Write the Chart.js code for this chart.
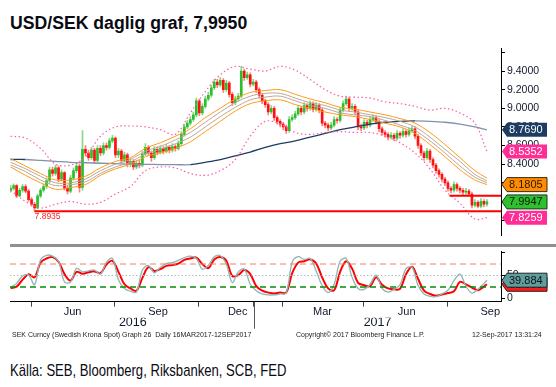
<!DOCTYPE html>
<html>
<head>
<meta charset="utf-8">
<script src="https://cdn.jsdelivr.net/npm/chart.js@4.4.1/dist/chart.umd.min.js"></script>
<style>
  body { margin: 0; background: #fff; }
  #page { position: relative; width: 556px; height: 387px; overflow: hidden; background: #fff; }
  #title { position: absolute; left: 10px; top: 14px; font: bold 18px/18px "Liberation Sans", sans-serif; color: #0a0a14; white-space: nowrap; transform: scaleX(0.98); transform-origin: 0 0; }
  #priceBox { position: absolute; left: 0; top: 40px; width: 556px; height: 204px; }
  #stochBox { position: absolute; left: 0; top: 243px; width: 556px; height: 87px; }
  canvas { display: block; }
  .foot { position: absolute; top: 331px; font: 7px/8px "Liberation Sans", sans-serif; color: #222; white-space: nowrap; }
  #source { position: absolute; left: 10px; top: 362px; font: 17px/17px "Liberation Sans", sans-serif; color: #0a0a14; white-space: nowrap; transform: scaleX(0.77); transform-origin: 0 0; }
</style>
</head>
<body>
<div id="page">
  <div id="title">USD/SEK daglig graf, 7,9950</div>
  <div id="priceBox"><canvas id="price" width="556" height="204"></canvas></div>
  <div id="stochBox"><canvas id="stoch" width="556" height="87"></canvas></div>
  <div class="foot" style="left:12px">SEK Curncy (Swedish Krona Spot) Graph 26&nbsp; Daily 16MAR2017-12SEP2017</div>
  <div class="foot" style="left:296px">Copyright© 2017 Bloomberg Finance L.P.</div>
  <div class="foot" style="left:472px">12-Sep-2017 13:31:24</div>
  <div id="source">Källa: SEB, Bloomberg, Riksbanken, SCB, FED</div>
</div>
<script>
// x axis = candle number, one candle ~ 2-3 trading days (Apr 2016 - 12 Sep 2017)
const xMin = -0.2, xMax = 163.7;

const opens = [
  8.12, 8.14, 8.17, 8.06, 8.12, 8.16, 8.11, 8.02, 7.97, 7.93,
  8.06, 8.12, 8.16, 8.22, 8.34, 8.30, 8.36, 8.24, 8.31, 8.14,
  8.11, 8.25, 8.33, 8.38, 8.15, 8.56, 8.52, 8.47, 8.55, 8.44,
  8.57, 8.52, 8.60, 8.58, 8.65, 8.68, 8.50, 8.54, 8.44, 8.50,
  8.40, 8.43, 8.37, 8.41, 8.39, 8.51, 8.58, 8.52, 8.47, 8.56,
  8.53, 8.57, 8.54, 8.58, 8.55, 8.59, 8.57, 8.62, 8.72, 8.80,
  8.84, 8.88, 8.93, 9.08, 8.95, 9.02, 9.10, 9.14, 9.22, 9.28,
  9.25, 9.30, 9.20, 9.27, 9.15, 9.06, 9.10, 9.13, 9.40, 9.33,
  9.36, 9.26, 9.28, 9.20, 9.14, 9.08, 9.04, 8.96, 9.00, 8.90,
  8.86, 8.83, 8.80, 8.76, 8.88, 8.90, 8.94, 9.00, 8.96, 9.03,
  9.00, 9.05, 8.99, 9.03, 8.98, 8.84, 8.82, 8.79, 8.82, 8.88,
  8.87, 8.98, 9.05, 9.10, 9.00, 9.02, 8.96, 8.80, 8.79, 8.85,
  8.82, 8.88, 8.90, 8.86, 8.78, 8.74, 8.72, 8.69, 8.71, 8.68,
  8.73, 8.71, 8.75, 8.72, 8.76, 8.78, 8.70, 8.60, 8.52, 8.47,
  8.54, 8.45, 8.39, 8.33, 8.29, 8.24, 8.20, 8.14, 8.12, 8.18,
  8.14, 8.12, 8.10, 8.11, 8.08, 7.96, 7.99, 7.95, 8.00, 7.97
];
const highs = [
  8.17, 8.19, 8.18, 8.14, 8.18, 8.18, 8.13, 8.04, 7.99, 8.08,
  8.14, 8.19, 8.25, 8.37, 8.37, 8.39, 8.38, 8.34, 8.32, 8.17,
  8.28, 8.36, 8.42, 8.40, 8.76, 8.60, 8.55, 8.58, 8.57, 8.60,
  8.60, 8.63, 8.63, 8.68, 8.71, 8.69, 8.57, 8.56, 8.53, 8.52,
  8.46, 8.45, 8.44, 8.44, 8.54, 8.62, 8.60, 8.54, 8.59, 8.59,
  8.60, 8.59, 8.61, 8.60, 8.62, 8.61, 8.65, 8.75, 8.83, 8.87,
  8.91, 8.96, 9.11, 9.10, 9.05, 9.13, 9.17, 9.25, 9.31, 9.31,
  9.33, 9.32, 9.30, 9.29, 9.17, 9.13, 9.16, 9.45, 9.42, 9.39,
  9.38, 9.31, 9.30, 9.22, 9.16, 9.10, 9.06, 9.03, 9.02, 8.92,
  8.88, 8.85, 8.82, 8.91, 8.93, 8.97, 9.03, 9.02, 9.06, 9.05,
  9.08, 9.07, 9.06, 9.05, 9.00, 8.86, 8.84, 8.85, 8.91, 8.90,
  9.01, 9.08, 9.13, 9.12, 9.05, 9.04, 8.98, 8.83, 8.88, 8.87,
  8.91, 8.93, 8.92, 8.88, 8.80, 8.76, 8.74, 8.74, 8.73, 8.76,
  8.75, 8.78, 8.77, 8.79, 8.81, 8.80, 8.72, 8.62, 8.54, 8.57,
  8.56, 8.47, 8.41, 8.35, 8.31, 8.26, 8.22, 8.16, 8.21, 8.20,
  8.16, 8.14, 8.14, 8.13, 8.10, 8.02, 8.01, 8.03, 8.02, 8.02
];
const lows = [
  8.10, 8.12, 8.04, 8.05, 8.10, 8.09, 8.00, 7.95, 7.8935, 7.92,
  8.04, 8.10, 8.14, 8.20, 8.27, 8.28, 8.21, 8.22, 8.12, 8.08,
  8.09, 8.23, 8.31, 8.10, 8.12, 8.49, 8.44, 8.45, 8.41, 8.42,
  8.49, 8.50, 8.55, 8.56, 8.63, 8.47, 8.47, 8.41, 8.42, 8.37,
  8.37, 8.34, 8.35, 8.36, 8.37, 8.49, 8.49, 8.43, 8.45, 8.50,
  8.51, 8.51, 8.52, 8.52, 8.53, 8.54, 8.55, 8.60, 8.70, 8.78,
  8.82, 8.86, 8.91, 8.92, 8.93, 9.00, 9.08, 9.12, 9.20, 9.22,
  9.23, 9.17, 9.18, 9.12, 9.03, 9.04, 9.08, 9.11, 9.30, 9.31,
  9.23, 9.24, 9.17, 9.11, 9.05, 9.01, 8.93, 8.94, 8.87, 8.83,
  8.80, 8.77, 8.73, 8.74, 8.86, 8.88, 8.92, 8.93, 8.94, 8.97,
  8.98, 8.96, 8.97, 8.95, 8.81, 8.79, 8.76, 8.77, 8.80, 8.84,
  8.85, 8.96, 9.03, 8.97, 8.98, 8.93, 8.77, 8.76, 8.77, 8.79,
  8.80, 8.86, 8.83, 8.75, 8.71, 8.69, 8.66, 8.67, 8.65, 8.66,
  8.68, 8.69, 8.69, 8.70, 8.74, 8.67, 8.57, 8.49, 8.44, 8.45,
  8.42, 8.36, 8.30, 8.26, 8.21, 8.17, 8.11, 8.09, 8.10, 8.11,
  8.09, 8.07, 8.07, 8.06, 7.93, 7.94, 7.93, 7.93, 7.94, 7.95
];
const closes = [
  8.14, 8.17, 8.06, 8.12, 8.16, 8.11, 8.02, 7.97, 7.93, 8.06,
  8.12, 8.16, 8.22, 8.34, 8.30, 8.36, 8.24, 8.31, 8.14, 8.11,
  8.25, 8.33, 8.38, 8.15, 8.56, 8.52, 8.47, 8.55, 8.44, 8.57,
  8.52, 8.60, 8.58, 8.65, 8.68, 8.50, 8.54, 8.44, 8.50, 8.40,
  8.43, 8.37, 8.41, 8.39, 8.51, 8.58, 8.52, 8.47, 8.56, 8.53,
  8.57, 8.54, 8.58, 8.55, 8.59, 8.57, 8.62, 8.72, 8.80, 8.84,
  8.88, 8.93, 9.08, 8.95, 9.02, 9.10, 9.14, 9.22, 9.28, 9.25,
  9.30, 9.20, 9.27, 9.15, 9.06, 9.10, 9.13, 9.40, 9.33, 9.36,
  9.26, 9.28, 9.20, 9.14, 9.08, 9.04, 8.96, 9.00, 8.90, 8.86,
  8.83, 8.80, 8.76, 8.88, 8.90, 8.94, 9.00, 8.96, 9.03, 9.00,
  9.05, 8.99, 9.03, 8.98, 8.84, 8.82, 8.79, 8.82, 8.88, 8.87,
  8.98, 9.05, 9.10, 9.00, 9.02, 8.96, 8.80, 8.79, 8.85, 8.82,
  8.88, 8.90, 8.86, 8.78, 8.74, 8.72, 8.69, 8.71, 8.68, 8.73,
  8.71, 8.75, 8.72, 8.76, 8.78, 8.70, 8.60, 8.52, 8.47, 8.54,
  8.45, 8.39, 8.33, 8.29, 8.24, 8.20, 8.14, 8.12, 8.18, 8.14,
  8.12, 8.10, 8.11, 8.08, 7.96, 7.99, 7.95, 8.00, 7.97, 7.9947
];

// overlay lines, read every 5 candles
const lineIdx = [0, 5, 10, 15, 20, 25, 30, 35, 40, 45, 50, 55, 60, 65, 70, 75, 80, 85, 90, 95, 100, 105, 110, 115, 120, 125, 130, 135, 140, 145, 150, 155, 159];
const ma200 = [8.45, 8.45, 8.44, 8.43, 8.42, 8.415, 8.41, 8.405, 8.40, 8.398, 8.396, 8.395, 8.394, 8.42, 8.45, 8.49, 8.53, 8.58, 8.62, 8.65, 8.69, 8.73, 8.77, 8.80, 8.83, 8.85, 8.86, 8.865, 8.86, 8.85, 8.83, 8.80, 8.769];
const envUpper = [8.46, 8.38, 8.30, 8.23, 8.23, 8.27, 8.36, 8.43, 8.47, 8.57, 8.63, 8.70, 8.78, 8.90, 9.00, 9.10, 9.17, 9.19, 9.20, 9.15, 9.10, 9.06, 9.01, 8.99, 8.96, 8.93, 8.89, 8.84, 8.74, 8.61, 8.47, 8.33, 8.25];
const envMidA = [8.42, 8.35, 8.27, 8.20, 8.20, 8.24, 8.33, 8.40, 8.45, 8.54, 8.59, 8.66, 8.74, 8.85, 8.96, 9.06, 9.13, 9.16, 9.16, 9.11, 9.06, 9.03, 8.98, 8.96, 8.93, 8.90, 8.86, 8.80, 8.69, 8.56, 8.43, 8.29, 8.22];
const envMidB = [8.39, 8.32, 8.23, 8.17, 8.18, 8.21, 8.30, 8.37, 8.42, 8.51, 8.56, 8.62, 8.69, 8.80, 8.91, 9.01, 9.09, 9.12, 9.13, 9.08, 9.03, 9.00, 8.95, 8.93, 8.91, 8.87, 8.82, 8.76, 8.65, 8.52, 8.38, 8.26, 8.20];
const envLower = [8.37, 8.28, 8.20, 8.13, 8.15, 8.18, 8.28, 8.35, 8.40, 8.48, 8.52, 8.57, 8.64, 8.75, 8.86, 8.97, 9.05, 9.08, 9.09, 9.04, 9.00, 8.96, 8.93, 8.91, 8.88, 8.84, 8.80, 8.73, 8.61, 8.48, 8.34, 8.23, 8.1805];
const bbUpper = [8.70, 8.68, 8.57, 8.40, 8.39, 8.48, 8.70, 8.80, 8.81, 8.80, 8.77, 8.72, 8.95, 9.18, 9.36, 9.45, 9.42, 9.40, 9.45, 9.41, 9.31, 9.20, 9.13, 9.12, 9.11, 9.07, 9.05, 9.02, 8.98, 9.00, 8.95, 8.84, 8.5352];
const bbLower = [8.12, 8.00, 7.93, 7.97, 8.00, 7.97, 7.99, 8.08, 8.16, 8.33, 8.37, 8.36, 8.30, 8.28, 8.33, 8.45, 8.70, 8.86, 8.83, 8.74, 8.72, 8.74, 8.75, 8.74, 8.74, 8.70, 8.63, 8.52, 8.35, 8.12, 7.98, 7.81, 7.8259];

const supportLevels = [7.8935, 8.06];
const supportFrom = [8, 146.5];
const priceTicks = [7.8, 8.0, 8.2, 8.4, 8.6, 8.8, 9.0, 9.2, 9.4, 9.6];

// stochastic, read every 2 candles (+ last)
const stochD = [
  23, 26, 41, 53, 46, 78, 87, 90, 80, 53,
  39, 58, 54, 57, 59, 55, 74, 82, 58, 31,
  22, 17, 45, 68, 60, 64, 71, 73, 76, 84,
  87, 89, 75, 66, 85, 90, 82, 49, 51, 62,
  53, 27, 17, 13, 11, 13, 13, 55, 78, 81,
  85, 76, 46, 22, 18, 58, 81, 65, 34, 29,
  27, 46, 30, 22, 20, 21, 53, 69, 43, 17,
  10, 6, 9, 12, 16, 36, 31, 24, 18, 26,
  31
];
const stochK = [
  24, 33, 49, 51, 30, 84, 94, 92, 81, 36,
  36, 66, 58, 60, 62, 53, 79, 87, 41, 22,
  16, 14, 62, 72, 56, 68, 76, 78, 83, 89,
  92, 87, 64, 72, 91, 93, 75, 35, 58, 64,
  31, 17, 10, 8, 8, 10, 12, 79, 91, 85,
  87, 60, 28, 13, 31, 81, 87, 46, 22, 20,
  31, 51, 22, 14, 20, 30, 65, 68, 29, 10,
  5, 4, 10, 18, 39, 53, 27, 12, 20, 33,
  39.884
];
const stochLevels = [75, 50, 25];
const stochTicks = [0, 50, 100];

const quarterTicks = [7.1, 34.6, 62.8, 90.9, 117.9, 145.9];
const monthPos = [20.7, 49.2, 75.8, 104.1, 132.2, 160.1];
const monthLabels = ['Jun', 'Sep', 'Dec', 'Mar', 'Jun', 'Sep'];
const yearPos = [40.8, 122.5];
const yearLabels = ['2016', '2017'];
const yearBreak = 81.2;

const stochIdx = stochD.map((v, k) => k < stochD.length - 1 ? 2 * k : 159);

const axisFont = { family: '"Liberation Sans", sans-serif', size: 10.5 };
const axisColor = '#10182a';

function series(vals) {
  return vals.map((v, k) => ({ x: lineIdx[k], y: v }));
}
function flat(level, from) {
  return [{ x: from, y: level }, { x: xMax, y: level }];
}

function drawTag(ctx, x0, y, fill, edge, txt, text) {
  const h = 14, w = 45, tip = 5;
  ctx.save();
  ctx.beginPath();
  ctx.moveTo(x0, y);
  ctx.lineTo(x0 + tip, y - h / 2);
  ctx.lineTo(x0 + w, y - h / 2);
  ctx.lineTo(x0 + w, y + h / 2);
  ctx.lineTo(x0 + tip, y + h / 2);
  ctx.closePath();
  ctx.fillStyle = fill;
  ctx.fill();
  if (edge) { ctx.strokeStyle = edge; ctx.lineWidth = 1; ctx.stroke(); }
  ctx.fillStyle = txt;
  ctx.font = '11px "Liberation Sans", sans-serif';
  ctx.textBaseline = 'middle';
  ctx.textAlign = 'left';
  ctx.fillText(text, x0 + 7, y + 0.5);
  ctx.restore();
}

const priceTags = {
  id: 'priceTags',
  afterDraw(chart) {
    const ctx = chart.ctx, ys = chart.scales.y, xs = chart.scales.x;
    const x0 = chart.chartArea.right + 1;

    // label under the 2016 low
    ctx.save();
    ctx.fillStyle = '#ff2020';
    ctx.font = '8.5px "Liberation Sans", sans-serif';
    ctx.textBaseline = 'top';
    ctx.fillText(supportLevels[0].toFixed(4), xs.getPixelForValue(supportFrom[0]), ys.getPixelForValue(supportLevels[0]) + 1.5);
    ctx.restore();

    const vals = [ma200.at(-1), bbUpper.at(-1), envLower.at(-1), closes.at(-1), bbLower.at(-1)];
    const fills = ['#1d3c62', '#ff2d95', '#ff8c00', '#2fbf2f', '#ff2d95'];
    const edges = [null, null, '#3a2a10', '#1a3a1a', null];
    const txts = ['#ffffff', '#ffffff', '#2a1a00', '#0a1a0a', '#ffffff'];
    vals.forEach((v, i) => drawTag(ctx, x0, ys.getPixelForValue(v), fills[i], edges[i], txts[i], v.toFixed(4)));
  }
};

new Chart(document.getElementById('price'), {
  data: {
    datasets: [
      { type: 'line', data: flat(supportLevels[0], supportFrom[0]), borderColor: '#ff0000', borderWidth: 2, pointRadius: 0, order: 0 },
      { type: 'line', data: flat(supportLevels[1], supportFrom[1]), borderColor: '#ff0000', borderWidth: 2, pointRadius: 0, order: 0 },
      { type: 'line', data: series(bbUpper), borderColor: '#ff5aa8', borderWidth: 1.2, borderDash: [1.5, 2.5], pointRadius: 0, tension: 0.35, order: 1 },
      { type: 'line', data: series(bbLower), borderColor: '#ff5aa8', borderWidth: 1.2, borderDash: [1.5, 2.5], pointRadius: 0, tension: 0.35, order: 1 },
      { type: 'line', data: series(envUpper), borderColor: '#ff9a1a', borderWidth: 1, pointRadius: 0, tension: 0.35, order: 2 },
      { type: 'line', data: series(envMidA), borderColor: '#bba898', borderWidth: 1, pointRadius: 0, tension: 0.35, order: 2 },
      { type: 'line', data: series(envMidB), borderColor: '#bba898', borderWidth: 1, pointRadius: 0, tension: 0.35, order: 2 },
      { type: 'line', data: series(envLower), borderColor: '#ff9a1a', borderWidth: 1, pointRadius: 0, tension: 0.35, order: 2 },
      {
        type: 'line', data: series(ma200), borderWidth: 1.3, pointRadius: 0, tension: 0.35, order: 2,
        borderColor: '#1d3c62',
        segment: { borderColor: c => c.p1.parsed.y >= c.p0.parsed.y ? '#1d3c62' : '#7f93ab' }
      },
      {
        type: 'bar', data: closes.map((c, i) => ({ x: i, y: [opens[i], c] })), grouped: false, barThickness: 2,
        backgroundColor: closes.map((c, i) => c >= opens[i] ? '#2cbf2c' : '#ff1010'), order: 5
      },
      {
        type: 'bar', data: closes.map((c, i) => ({ x: i, y: [lows[i], highs[i]] })), grouped: false, barThickness: 1,
        backgroundColor: closes.map((c, i) => c >= opens[i] ? '#86d886' : '#ff8080'), order: 6
      }
    ]
  },
  options: {
    responsive: false,
    animation: false,
    layout: { padding: { left: 10, top: 6, right: 0, bottom: 0 } },
    plugins: { legend: { display: false }, tooltip: { enabled: false } },
    scales: {
      x: { type: 'linear', min: xMin, max: xMax, offset: false, display: false },
      y: {
        position: 'right', min: 7.632, max: 9.644,
        afterFit: s => { s.width = 55; },
        afterBuildTicks: s => { s.ticks = priceTicks.map(v => ({ value: v })); },
        ticks: { callback: v => v > 9.5 ? '' : v.toFixed(4), font: axisFont, color: axisColor, padding: 2 },
        grid: { drawOnChartArea: false, tickLength: 4, color: '#000' },
        border: { color: '#000' }
      }
    }
  },
  plugins: [priceTags]
});

const stochDeco = {
  id: 'stochDeco',
  afterDraw(chart) {
    const ctx = chart.ctx, ys = chart.scales.y, xs = chart.scales.x, area = chart.chartArea;
    ctx.save();
    ctx.fillStyle = '#8f8f8f';
    ctx.fillRect(10, 1, 546, 3);
    const xb = Math.round(xs.getPixelForValue(yearBreak)) + 0.5;
    ctx.strokeStyle = '#555';
    ctx.lineWidth = 1;
    ctx.beginPath();
    ctx.moveTo(xb, area.bottom);
    ctx.lineTo(xb, area.bottom + 27);
    ctx.stroke();
    ctx.restore();
    const x0 = area.right + 1;
    drawTag(ctx, x0, ys.getPixelForValue(stochD.at(-1)), '#ff1a1a', '#222', '#111', stochD.at(-1).toFixed(3));
    drawTag(ctx, x0, ys.getPixelForValue(stochK.at(-1)), '#5f9e9e', '#222', '#111', stochK.at(-1).toFixed(3));
  }
};

const allXTicks = quarterTicks.concat([yearBreak], monthPos);

new Chart(document.getElementById('stoch'), {
  data: {
    datasets: [
      { type: 'line', data: flat(stochLevels[0], xMin), borderColor: '#f08060', borderWidth: 1, borderDash: [6, 4], pointRadius: 0 },
      { type: 'line', data: flat(stochLevels[1], xMin), borderColor: '#a8bcc0', borderWidth: 1, borderDash: [1.5, 2], pointRadius: 0 },
      { type: 'line', data: flat(stochLevels[2], xMin), borderColor: '#0a8a0a', borderWidth: 1.5, borderDash: [6, 4], pointRadius: 0 },
      { type: 'line', data: stochK.map((v, k) => ({ x: stochIdx[k], y: v })), borderColor: '#8fb4b4', borderWidth: 1.3, pointRadius: 0, tension: 0.35 },
      { type: 'line', data: stochD.map((v, k) => ({ x: stochIdx[k], y: v })), borderColor: '#ff0000', borderWidth: 2, pointRadius: 0, tension: 0.35 }
    ]
  },
  options: {
    responsive: false,
    animation: false,
    layout: { padding: { left: 10, top: 4, right: 0, bottom: 0 } },
    plugins: { legend: { display: false }, tooltip: { enabled: false } },
    scales: {
      x: {
        type: 'linear', position: 'bottom', min: xMin, max: xMax, weight: 0,
        afterFit: s => { s.height = 16; },
        afterBuildTicks: s => { s.ticks = allXTicks.map(v => ({ value: v })); },
        ticks: {
          autoSkip: false, maxRotation: 0, padding: -1, font: { family: '"Liberation Sans", sans-serif', size: 11 }, color: axisColor,
          callback: v => { const k = monthPos.indexOf(v); return k >= 0 ? monthLabels[k] : ''; }
        },
        grid: {
          drawOnChartArea: false, tickLength: 5,
          color: c => (c.tick && monthPos.includes(c.tick.value)) ? 'rgba(0,0,0,0)' : '#444'
        },
        border: { color: '#000' }
      },
      x2: {
        type: 'linear', position: 'bottom', min: xMin, max: xMax, weight: 1,
        afterFit: s => { s.height = 12.3; },
        afterBuildTicks: s => { s.ticks = yearPos.map(v => ({ value: v })); },
        ticks: {
          autoSkip: false, maxRotation: 0, padding: -3, font: { family: '"Liberation Sans", sans-serif', size: 12.5 }, color: axisColor,
          callback: v => yearLabels[yearPos.indexOf(v)]
        },
        grid: { display: false, drawTicks: false },
        border: { display: false }
      },
      y: {
        position: 'right', min: -6.8, max: 102.6,
        afterFit: s => { s.width = 55; },
        afterBuildTicks: s => { s.ticks = stochTicks.map(v => ({ value: v })); },
        ticks: { callback: v => v === 100 ? '' : String(v), font: axisFont, color: axisColor, padding: 2 },
        grid: { drawOnChartArea: false, tickLength: 4, color: '#000' },
        border: { color: '#000' }
      }
    }
  },
  plugins: [stochDeco]
});
</script>
</body>
</html>
